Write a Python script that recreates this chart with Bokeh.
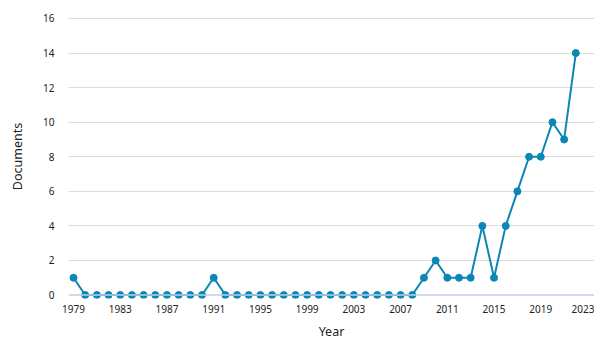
from bokeh.plotting import figure
from bokeh.models import Range1d, FixedTicker, Span
from bokeh.embed import file_html
from bokeh.resources import INLINE

years = list(range(1979, 2023))
documents = [1, 0, 0, 0, 0, 0, 0, 0, 0, 0, 0, 0, 1, 0, 0, 0, 0, 0, 0, 0,
             0, 0, 0, 0, 0, 0, 0, 0, 0, 0, 1, 2, 1, 1, 1, 4, 1, 4, 6, 8,
             8, 10, 9, 14]
x_ticks = list(range(1979, 2024, 4))
y_ticks = list(range(0, 17, 2))

color = "#0b86b5"
font = "Noto Sans"

p = figure(width=594, height=342, output_backend="svg", toolbar_location=None,
           x_range=Range1d(1978.57, 2023.6), y_range=Range1d(-0.2, 16.23),
           min_border_left=68, min_border_right=0, min_border_top=14, min_border_bottom=10)
p.outline_line_color = None
p.background_fill_color = "white"

p.xgrid.grid_line_color = None
p.ygrid.grid_line_color = "#dcdcdc"
p.ygrid.grid_line_width = 1
p.ygrid.ticker = FixedTicker(ticks=y_ticks[1:])

p.add_layout(Span(location=0, dimension="width", line_color="#c3cfe2", line_width=1.5))

p.xaxis.ticker = FixedTicker(ticks=x_ticks)
p.yaxis.ticker = FixedTicker(ticks=y_ticks)
for ax in (p.xaxis[0], p.yaxis[0]):
    ax.axis_line_color = None
    ax.major_tick_line_color = None
    ax.minor_tick_line_color = None
    ax.major_label_text_font = font
    ax.major_label_text_font_size = "10px"
    ax.major_label_text_color = "#222222"
    ax.axis_label_text_font = font
    ax.axis_label_text_font_size = "12.5px"
    ax.axis_label_text_font_style = "normal"
    ax.axis_label_text_color = "#222222"
p.xaxis.major_label_standoff = 0
p.yaxis.major_label_standoff = 8
p.xaxis.axis_label = "Year"
p.yaxis.axis_label = "Documents"
p.xaxis.axis_label_standoff = 7
p.yaxis.axis_label_standoff = 14

p.line(years, documents, line_color=color, line_width=2)
p.scatter(years, documents, size=7, fill_color=color, line_color=color)

open("out.html", "w").write(file_html(p, INLINE))
